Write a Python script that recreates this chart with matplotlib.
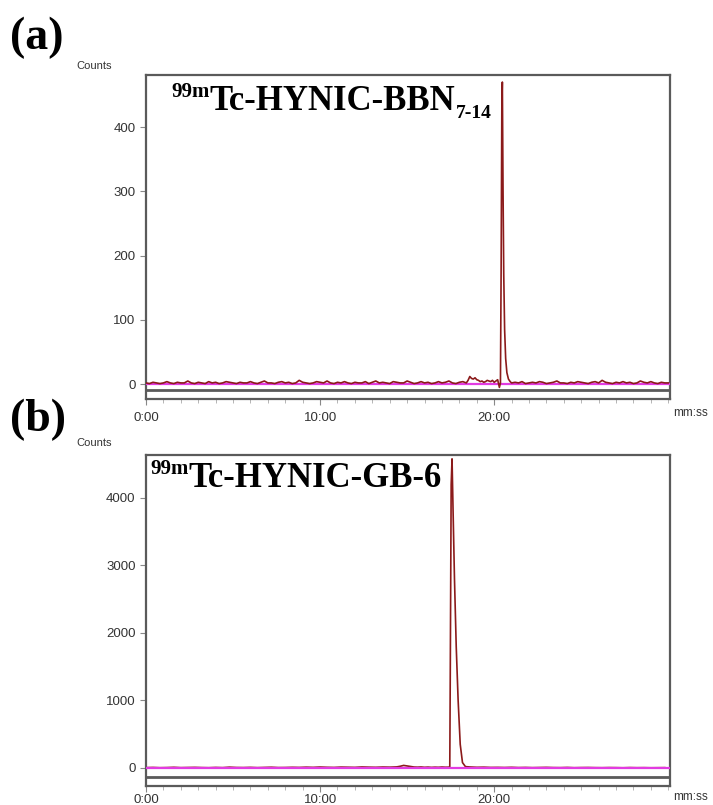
import numpy as np
import matplotlib.pyplot as plt
from matplotlib.ticker import FixedLocator, FixedFormatter, MultipleLocator

# ---- panel (a) data: 99mTc-HYNIC-BBN7-14 ----
a_base1_t = np.linspace(0, 18.4, 93)
a_base1 = [2, 1, 3, 2, 1, 2, 4, 2, 1, 3, 2, 2, 5, 2, 1, 3, 2, 1, 4, 2,
           3, 1, 2, 4, 3, 2, 1, 3, 2, 2, 4, 2, 1, 3, 5, 2, 2, 1, 3, 4,
           2, 3, 1, 2, 6, 3, 2, 1, 2, 4, 3, 2, 5, 2, 1, 3, 2, 4, 2, 1,
           3, 2, 2, 4, 1, 3, 5, 2, 3, 2, 1, 4, 3, 2, 2, 5, 3, 1, 2, 4,
           2, 3, 1, 2, 4, 2, 3, 5, 2, 1, 3, 4, 2]
a_bump_t = [18.5, 18.6, 18.7, 18.8, 18.9, 19.0, 19.1, 19.2, 19.3, 19.4,
            19.5, 19.6, 19.7, 19.8, 19.9, 20.0, 20.1, 20.2, 20.3]
a_bump = [6, 12, 9, 8, 10, 7, 6, 4, 5, 3, 4, 6, 5, 4, 6, 3, 5, 7, -5]
a_peak_t = [20.36, 20.40, 20.44, 20.47, 20.51, 20.55, 20.60, 20.66, 20.73,
            20.82, 20.92, 21.0]
a_peak = [2, 180, 430, 470, 300, 170, 85, 40, 18, 8, 4, 2]
a_base2_t = np.linspace(21.2, 30.0, 45)
a_base2 = [3, 2, 4, 1, 2, 3, 2, 4, 3, 1, 2, 3, 5, 2, 2, 1, 3, 2, 4, 3,
           2, 1, 3, 4, 2, 6, 3, 2, 1, 3, 2, 4, 2, 3, 1, 2, 5, 3, 2, 4,
           2, 1, 3, 2, 2]

# ---- panel (b) data: 99mTc-HYNIC-GB-6 ----
b_base1_t = np.linspace(0, 14.4, 37)
b_base1 = [5, 8, 4, 6, 10, 5, 7, 9, 6, 4, 8, 5, 12, 7, 6, 9, 5, 8, 11, 6,
           7, 10, 8, 12, 9, 14, 10, 8, 13, 11, 9, 15, 12, 10, 14, 12, 16]
b_bump_t = [14.6, 14.8, 15.0, 15.2, 15.4, 15.6, 15.8, 16.0, 16.2, 16.4,
            16.6, 16.8, 17.0, 17.2, 17.4]
b_bump = [25, 38, 30, 22, 14, 12, 15, 10, 13, 9, 12, 10, 14, 11, 12]
b_peak_t = [17.45, 17.48, 17.53, 17.58, 17.64, 17.72, 17.82, 17.93, 18.05,
            18.18, 18.35]
b_peak = [15, 1500, 4200, 4580, 3800, 2800, 1800, 1000, 350, 80, 20]
b_base2_t = np.linspace(18.6, 29.8, 29)
b_base2 = [15, 10, 12, 8, 9, 7, 10, 6, 8, 5, 7, 9, 6, 5, 8, 4, 6, 7, 5, 4,
           6, 5, 3, 6, 4, 5, 3, 4, 5]

xtick_vals = [0, 10, 20]
xtick_labels = ['0:00', '10:00', '20:00']

W, H = 713, 805
fig = plt.figure(figsize=(W / 100, H / 100), dpi=100)
plt.rcParams['font.family'] = ['Liberation Sans', 'DejaVu Sans']

trace_col = '#8b1a1a'
base_col = '#e23be2'
frame_col = '#5a5a5a'
tick_col = '#333333'


def px_axes(left, top, right, bottom):
    return fig.add_axes([left / W, 1 - bottom / H, (right - left) / W, (bottom - top) / H])


def setup(ax, ymin, ymax, yline, yticks, xpad):
    ax.set_xlim(0, 30.1)
    ax.set_ylim(ymin, ymax)
    ax.axhline(yline, color=frame_col, lw=2)
    ax.axhline(0, color=base_col, lw=1.6, zorder=3)
    for s in ax.spines.values():
        s.set_color(frame_col)
        s.set_linewidth(1.6)
    ax.yaxis.set_major_locator(FixedLocator(yticks))
    ax.xaxis.set_major_locator(FixedLocator(xtick_vals))
    ax.xaxis.set_major_formatter(FixedFormatter(xtick_labels))
    ax.xaxis.set_minor_locator(MultipleLocator(1))
    ax.tick_params(axis='both', which='major', colors='#888888', labelcolor=tick_col,
                   labelsize=9.5, length=4, width=0.8)
    ax.tick_params(axis='x', which='minor', colors='#aaaaaa', length=3, width=0.6)
    ax.tick_params(axis='x', pad=xpad)


# panel (a)
ax1 = px_axes(146, 75, 670, 399)
t_a = np.concatenate([a_base1_t, a_bump_t, a_peak_t, a_base2_t])
y_a = np.concatenate([a_base1, a_bump, a_peak, a_base2])
ax1.plot(t_a, y_a, color=trace_col, lw=1.2, zorder=4)
setup(ax1, -23, 481, -9, [0, 100, 200, 300, 400], 5)

# panel (b)
ax2 = px_axes(146, 455, 670, 786)
t_b = np.concatenate([b_base1_t, b_bump_t, b_peak_t, b_base2_t])
y_b = np.concatenate([b_base1, b_bump, b_peak, b_base2])
ax2.plot(t_b, y_b, color=trace_col, lw=1.2, zorder=2)
setup(ax2, -267, 4637, -133, [0, 1000, 2000, 3000, 4000], 2)

serif = 'Liberation Serif'
fig.text(10 / W, 1 - 38 / H, '(a)', family=serif, weight='bold', fontsize=33, va='center')
fig.text(10 / W, 1 - 420 / H, '(b)', family=serif, weight='bold', fontsize=33, va='center')
fig.text(76 / W, 1 - 66 / H, 'Counts', fontsize=8, color=tick_col, va='center')
fig.text(76 / W, 1 - 443 / H, 'Counts', fontsize=8, color=tick_col, va='center')
fig.text(708 / W, 1 - 413 / H, 'mm:ss', fontsize=8.5, color=tick_col, va='center', ha='right')
fig.text(708 / W, 1 - 797 / H, 'mm:ss', fontsize=8.5, color=tick_col, va='center', ha='right')

fig.canvas.draw()
rend = fig.canvas.get_renderer()


def title(x, base_y, main, sub):
    # superscript, main label, optional subscript placed side by side
    sup = fig.text(x / W, 1 - (base_y - 13) / H, '99m', family=serif, weight='bold',
                   fontsize=15, va='baseline')
    x2 = sup.get_window_extent(rend).x1
    m = fig.text(x2 / W, 1 - base_y / H, main, family=serif, weight='bold',
                 fontsize=25, va='baseline')
    if sub:
        x3 = m.get_window_extent(rend).x1 + 1
        fig.text(x3 / W, 1 - (base_y + 8) / H, sub, family=serif, weight='bold',
                 fontsize=14, va='baseline')


title(171, 110, 'Tc-HYNIC-BBN', '7-14')
title(150, 487, 'Tc-HYNIC-GB-6', None)

fig.savefig('out.png', dpi=100)
